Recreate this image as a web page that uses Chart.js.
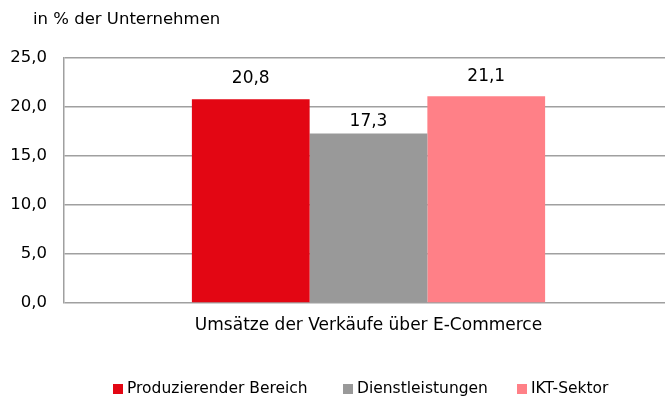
<!DOCTYPE html>
<html>
<head>
<meta charset="utf-8">
<script src="https://cdn.jsdelivr.net/npm/chart.js@4/dist/chart.umd.min.js"></script>
<style>
  html, body { margin: 0; padding: 0; background: #fff; overflow: hidden; }
  #wrap { width: 665px; height: 398px; overflow: hidden; }
</style>
</head>
<body>
<div id="wrap"><canvas id="chart" width="673" height="398"></canvas></div>
<script>
const categories = ["Umsätze der Verkäufe über E-Commerce"];
const seriesNames = ["Produzierender Bereich", "Dienstleistungen", "IKT-Sektor"];
const produzierend = [20.8];
const dienstleistungen = [17.3];
const iktSektor = [21.1];
const yTicks = [0, 5, 10, 15, 20, 25];

const colors = ["#E30613", "#999999", "#FF8087"];
const labelGap = [21, 12, 20];
const legendX = [113, 343, 517];
const FONT = "'DejaVu Sans', sans-serif";
const fmt = v => v.toFixed(1).replace(".", ",");

// value labels above the bars, the unit note and the legend row
const extras = {
  id: "extras",
  afterDatasetsDraw(chart) {
    const ctx = chart.ctx;
    ctx.save();
    ctx.fillStyle = "#000";
    ctx.textAlign = "center";
    ctx.textBaseline = "middle";
    ctx.font = "17px " + FONT;
    chart.data.datasets.forEach((ds, i) => {
      chart.getDatasetMeta(i).data.forEach((bar, j) => {
        ctx.fillText(fmt(ds.data[j]), bar.x, bar.y - labelGap[i]);
      });
    });

    ctx.textAlign = "left";
    ctx.font = "16.5px " + FONT;
    ctx.fillText("in % der Unternehmen", 33, 20);

    ctx.font = "15.5px " + FONT;
    const y = 389;
    chart.data.datasets.forEach((ds, i) => {
      ctx.fillStyle = ds.backgroundColor;
      ctx.fillRect(legendX[i], y - 5, 10, 10);
      ctx.fillStyle = "#000";
      ctx.fillText(ds.label, legendX[i] + 14, y);
    });
    ctx.restore();
  }
};

new Chart(document.getElementById("chart"), {
  type: "bar",
  data: {
    labels: categories,
    datasets: [
      { label: seriesNames[0], data: produzierend, backgroundColor: colors[0] },
      { label: seriesNames[1], data: dienstleistungen, backgroundColor: colors[1] },
      { label: seriesNames[2], data: iktSektor, backgroundColor: colors[2] }
    ]
  },
  options: {
    responsive: false,
    animation: false,
    devicePixelRatio: 1,
    layout: { padding: { top: 58, left: 0, right: 0, bottom: 0 } },
    datasets: { bar: { categoryPercentage: 0.58, barPercentage: 1 } },
    plugins: { legend: { display: false }, tooltip: { enabled: false } },
    scales: {
      x: {
        grid: { display: false, drawTicks: false },
        border: { display: false },
        ticks: { color: "#000", font: { family: FONT, size: 17 }, padding: 12 },
        afterFit(scale) { scale.height = 95; }
      },
      y: {
        min: 0,
        max: 25,
        afterBuildTicks(scale) { scale.ticks = yTicks.map(v => ({ value: v })); },
        grid: { color: "#a0a0a0", lineWidth: 1.5, drawTicks: false },
        border: { display: true, color: "#a0a0a0", width: 1.5 },
        ticks: {
          color: "#000",
          font: { family: FONT, size: 16.5 },
          padding: 17,
          callback: v => fmt(v)
        },
        afterFit(scale) { scale.width = 64; }
      }
    }
  },
  plugins: [extras]
});
</script>
</body>
</html>
